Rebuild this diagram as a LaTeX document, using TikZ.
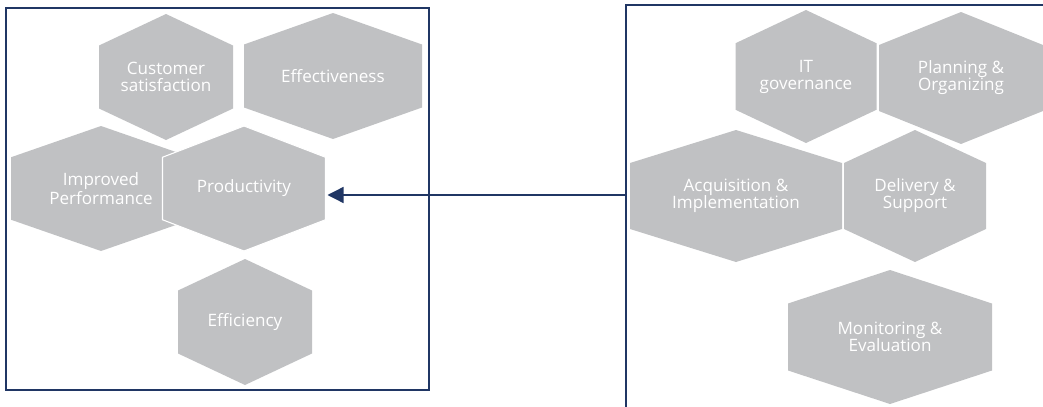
\documentclass[tikz,border=0pt]{standalone}
\usepackage{fontspec}
\setmainfont{Open Sans}
\usetikzlibrary{arrows.meta}
\definecolor{hexgrey}{RGB}{192,193,195}
\definecolor{navy}{RGB}{32,54,100}

% hexagon: name, centre x, centre y, half width, half height
\newcommand{\hexa}[6][]{%
    \path [hx,#1] (#3-#5,#4-#6/2) -- (#3,#4-#6) -- (#3+#5,#4-#6/2)
        -- (#3+#5,#4+#6/2) -- (#3,#4+#6) -- (#3-#5,#4+#6/2) -- cycle;
    \coordinate (#2-e) at (#3+#5,#4);
}

\begin{document}
\begin{tikzpicture} [
    x=0.75pt, y=-0.75pt,
    hx/.style={
        fill=hexgrey
    },
    t/.style={
        font=\fontsize{12.8}{12.8}\selectfont,
        text=white, align=center
    },
    frame/.style={
        draw=navy, line width=1.1pt
    }
]

\clip (0,0) rectangle (1043,407);

% left panel
\draw [frame] (6,8) rectangle (429,390);

\hexa{cust}{166}{77}{67}{63}
\hexa{effe}{333}{76}{89}{63}
\hexa{impr}{101}{188.5}{90}{62.5}
\hexa[draw=white,line width=0.8pt]{prod}{244}{188.5}{81.5}{62.5}
\hexa{effi}{245}{322}{67}{63}

\node [t] (cust-t) at (166,77)    {Customer\\satisfaction};
\node [t] (effe-t) at (333,76)    {Effectiveness};
\node [t] (impr-t) at (101,188.5) {Improved\\Performance};
\node [t] (prod-t) at (244,188.5) {Productivity};
\node [t] (effi-t) at (245,322)   {Efficiency};

% right panel
\draw [frame] (626,5) rectangle (1060,420);

\hexa{itg}{806}{76.5}{70.5}{66.5}
\hexa{plan}{961}{78}{82}{66}
\hexa{acq}{736}{196}{106}{66}
\hexa{del}{915}{196}{71}{66}
\hexa{mon}{890}{337}{102}{67}

\node [t] (itg-t)  at (806,76.5) {IT\\governance};
\node [t] (plan-t) at (961,78)   {Planning \&\\Organizing};
\node [t] (acq-t)  at (736,196)  {Acquisition \&\\Implementation};
\node [t] (del-t)  at (915,196)  {Delivery \&\\Support};
\node [t] (mon-t)  at (890,337)  {Monitoring \&\\Evaluation};

\coordinate (src) at (626,195);
\draw [navy, line width=1pt, -{Triangle[length=12pt,width=12pt]}]
    (src) -- ([xshift=1.5pt]src -| prod-e);

\end{tikzpicture}
\end{document}
